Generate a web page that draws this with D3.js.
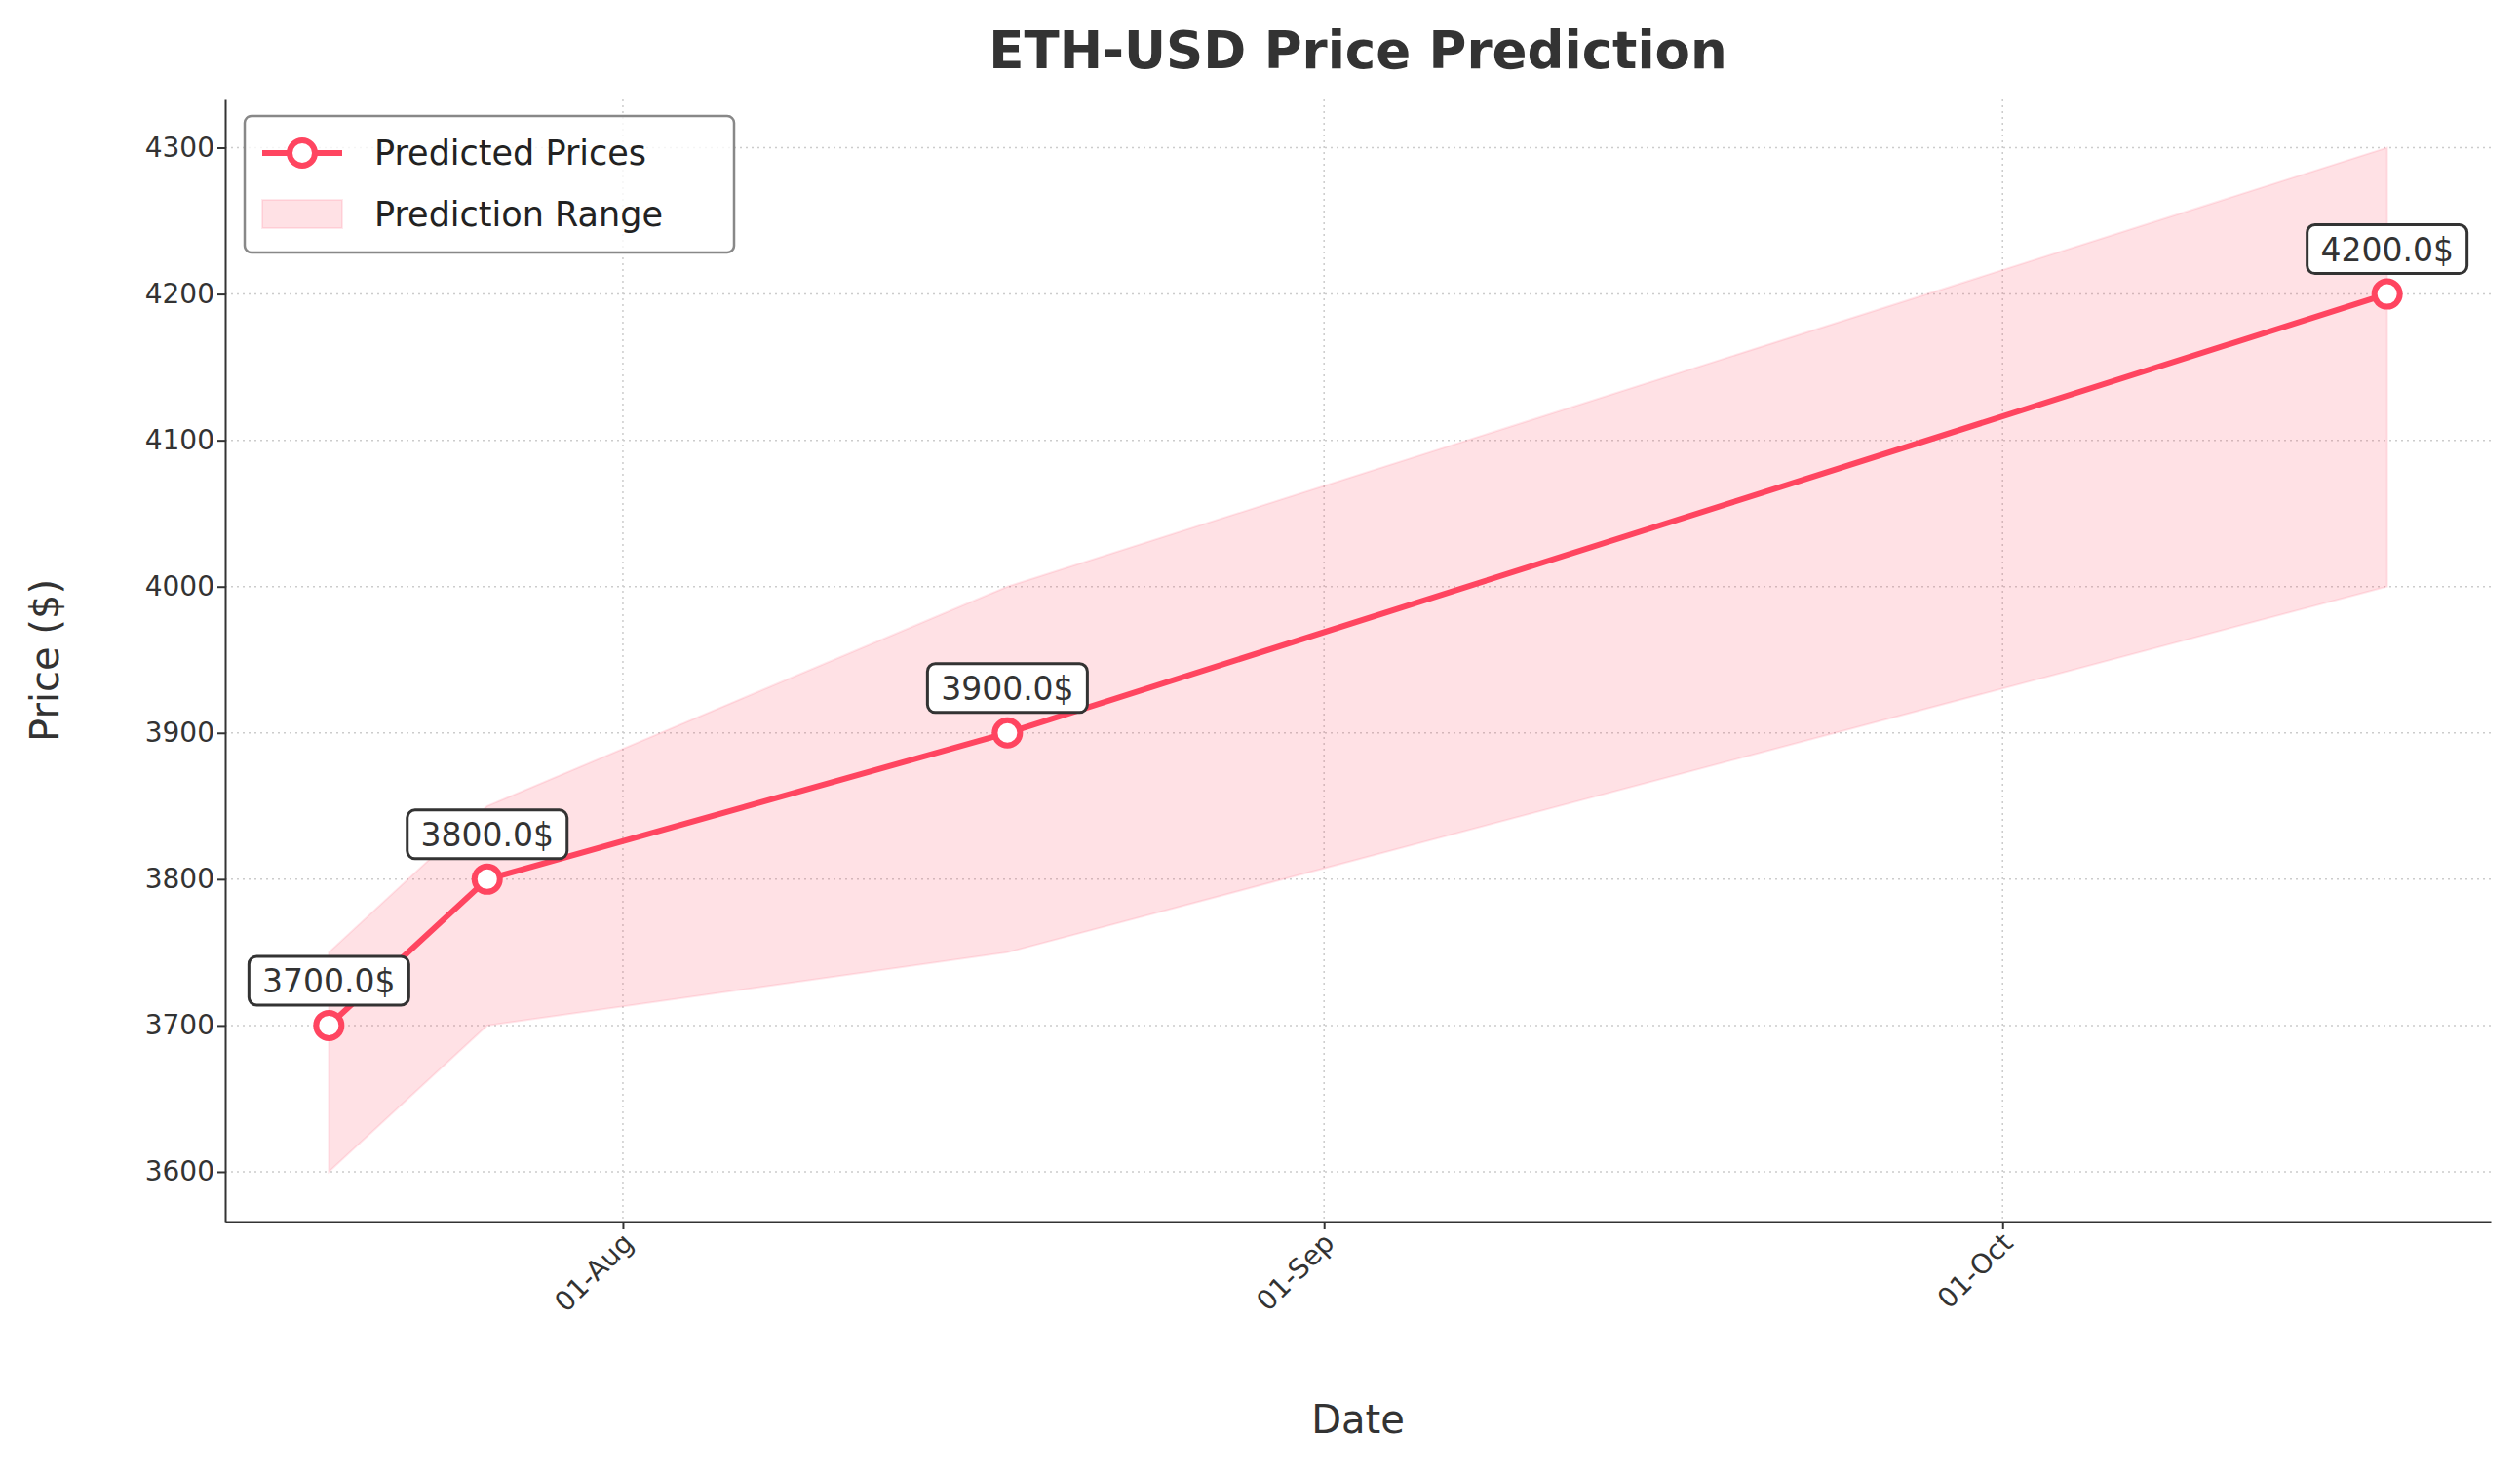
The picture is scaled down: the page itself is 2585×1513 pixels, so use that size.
<!DOCTYPE html>
<html><head><meta charset="utf-8">
<script src="https://cdn.jsdelivr.net/npm/d3@7"></script>
<style>body{margin:0;background:#fff}text{font-family:"DejaVu Sans",sans-serif}</style>
</head><body><svg id="c" width="2585" height="1513"></svg>
<script>
const dates=["2024-07-19","2024-07-26","2024-08-18","2024-10-18"];
const predicted=[3700,3800,3900,4200];
const lower=[3600,3700,3750,4000];
const upper=[3750,3850,4000,4300];
const yTicks=[3600,3700,3800,3900,4000,4100,4200,4300];
const xTicks=["2024-08-01","2024-09-01","2024-10-01"];
const p=d3.timeParse("%Y-%m-%d");
const data=dates.map((d,i)=>({d:p(d),v:predicted[i],lo:lower[i],hi:upper[i]}));
const svg=d3.select("#c");
const L=231,R=2555,T=102,B=1253;
const x=d3.scaleTime().domain([new Date(2024,6,14,10),new Date(2024,9,22,14)]).range([L,R]);
const y=d3.scaleLinear().domain([3566,4333]).range([B,T]);
const col="#ff4560";
svg.append("g").selectAll("line").data(yTicks).join("line").attr("x1",L).attr("x2",R).attr("y1",d=>y(d)).attr("y2",d=>y(d)).attr("stroke","#ccc").attr("stroke-dasharray","2,4").attr("stroke-width",1.5);
svg.append("g").selectAll("line").data(xTicks).join("line").attr("y1",T).attr("y2",B).attr("x1",d=>x(p(d))).attr("x2",d=>x(p(d))).attr("stroke","#ccc").attr("stroke-dasharray","2,4").attr("stroke-width",1.5);
svg.append("path").datum(data).attr("d",d3.area().x(d=>x(d.d)).y0(d=>y(d.lo)).y1(d=>y(d.hi))).attr("fill",col).attr("fill-opacity",0.16).attr("stroke",col).attr("stroke-opacity",0.12).attr("stroke-width",2);
const xa=svg.append("g").attr("transform",`translate(0,${B})`).call(d3.axisBottom(x).tickValues(xTicks.map(p)).tickFormat(d3.timeFormat("%d-%b")).tickSize(8).tickSizeOuter(0));
xa.selectAll("text").style("font-size","28px").attr("fill","#333").attr("text-anchor","end").attr("transform","rotate(-45)").attr("dx","-0.3em").attr("dy","0.5em");
const ya=svg.append("g").attr("transform",`translate(${L},0)`).call(d3.axisLeft(y).tickValues(yTicks).tickFormat(d3.format("d")).tickSize(8).tickSizeOuter(0));
ya.selectAll("text").style("font-size","28px").attr("fill","#333");
svg.selectAll(".domain").attr("stroke","#333").attr("stroke-width",2);
svg.selectAll(".tick line").attr("stroke","#333").attr("stroke-width",2);
svg.append("path").datum(data).attr("d",d3.line().x(d=>x(d.d)).y(d=>y(d.v))).attr("fill","none").attr("stroke",col).attr("stroke-width",6);
svg.append("g").selectAll("circle").data(data).join("circle").attr("cx",d=>x(d.d)).attr("cy",d=>y(d.v)).attr("r",13).attr("fill","#fff").attr("stroke",col).attr("stroke-width",6);
const lg=svg.append("g").selectAll("g").data(data).join("g").attr("transform",d=>`translate(${x(d.d)},${y(d.v)-45})`);
lg.append("rect").attr("x",-82).attr("y",-26).attr("width",164).attr("height",50).attr("rx",8).attr("fill","#fff").attr("stroke","#333").attr("stroke-width",3);
lg.append("text").attr("text-anchor","middle").attr("dy","0.35em").style("font-size","33px").attr("fill","#333").text(d=>d.v.toFixed(1)+"$");
svg.append("text").attr("x",(L+R)/2).attr("y",70).attr("text-anchor","middle").style("font-size","53px").attr("font-weight","bold").attr("fill","#333").text("ETH-USD Price Prediction");
svg.append("text").attr("x",(L+R)/2).attr("y",1470).attr("text-anchor","middle").style("font-size","40px").attr("fill","#333").text("Date");
svg.append("text").attr("transform",`translate(60,${(T+B)/2}) rotate(-90)`).attr("text-anchor","middle").style("font-size","40px").attr("fill","#333").text("Price ($)");
const g=svg.append("g").attr("transform","translate(251,119)");
g.append("rect").attr("width",502).attr("height",140).attr("rx",7).attr("fill","#fff").attr("fill-opacity",0.8).attr("stroke","#888").attr("stroke-width",2.5);
g.append("line").attr("x1",18).attr("x2",100).attr("y1",38).attr("y2",38).attr("stroke",col).attr("stroke-width",6);
g.append("circle").attr("cx",59).attr("cy",38).attr("r",13).attr("fill","#fff").attr("stroke",col).attr("stroke-width",6);
g.append("rect").attr("x",18).attr("y",86).attr("width",82).attr("height",29).attr("fill",col).attr("fill-opacity",0.16).attr("stroke",col).attr("stroke-opacity",0.12).attr("stroke-width",2);
g.append("text").attr("x",133).attr("y",38).attr("dy","0.35em").style("font-size","35px").attr("fill","#222").text("Predicted Prices");
g.append("text").attr("x",133).attr("y",101).attr("dy","0.35em").style("font-size","35px").attr("fill","#222").text("Prediction Range");
</script></body></html>
